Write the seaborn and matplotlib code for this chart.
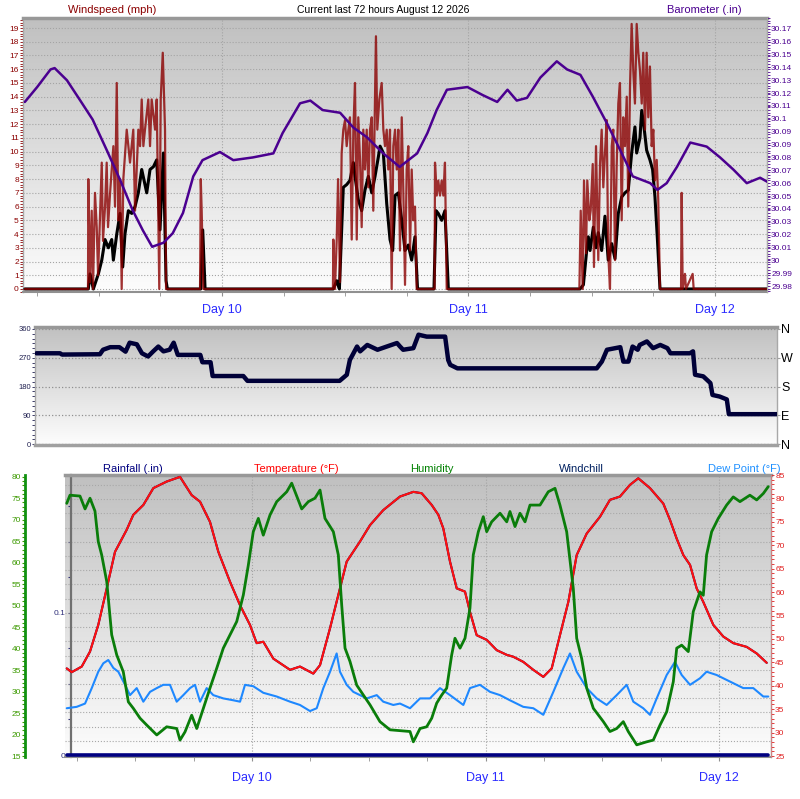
import numpy as np
import matplotlib
matplotlib.use("Agg")
import matplotlib.pyplot as plt
from matplotlib.colors import LinearSegmentedColormap
from matplotlib.ticker import MultipleLocator
import seaborn as sns

sns.set_style("white")
plt.rcParams['font.family'] = ['Liberation Sans', 'DejaVu Sans']

# ---- data (hours relative to Day 10 00:00) ----
day_hours = [0, 24, 48]
day_labels = ["Day 10", "Day 11", "Day 12"]

# barometer (.in)
baro_hours = [-19.2, -18.0, -16.7, -16.3, -15.1, -13.8, -12.6, -11.2, -9.9, -8.7,
              -7.7, -6.8, -5.7, -4.8, -3.8, -2.8, -1.9, -0.2, 1.1, 3.0,
              5.0, 5.9, 7.6, 8.6, 9.8, 11.5, 12.8, 14.1, 15.7, 17.3,
              19.0, 20.0, 20.9, 21.9, 23.9, 25.4, 26.8, 27.8, 28.7, 29.7,
              31.0, 32.6, 33.6, 34.9, 36.1, 37.5, 38.8, 40.0, 41.7, 42.4,
              43.3, 44.3, 45.6, 47.2, 48.5, 49.8, 51.1, 52.4, 53.1]
baro_vals = [30.116, 30.127, 30.140, 30.141, 30.132, 30.117, 30.103, 30.080, 30.058, 30.036,
             30.021, 30.009, 30.012, 30.019, 30.034, 30.061, 30.073, 30.079, 30.073, 30.075,
             30.078, 30.093, 30.115, 30.117, 30.110, 30.108, 30.097, 30.090, 30.078, 30.068,
             30.078, 30.093, 30.110, 30.125, 30.127, 30.121, 30.116, 30.125, 30.117, 30.119,
             30.134, 30.146, 30.140, 30.136, 30.120, 30.100, 30.080, 30.061, 30.056, 30.051,
             30.056, 30.068, 30.086, 30.083, 30.075, 30.066, 30.056, 30.060, 30.057]
baro_tick_labels = ["29.98", "29.99", "30", "30.01", "30.02", "30.03", "30.04", "30.05",
                    "30.06", "30.07", "30.08", "30.09", "30.09", "30.1", "30.11", "30.12",
                    "30.13", "30.14", "30.15", "30.16", "30.17"]

# wind gust (mph)
gust_hours = [-19.2, -13.05, -13.02, -12.85, -12.69, -12.56, -12.37, -12.20, -12.07, -11.71,
              -11.59, -11.39, -11.23, -11.10, -10.90, -10.58, -10.42, -10.25, -10.10, -9.93,
              -9.77, -9.61, -9.28, -8.96, -8.64, -8.47, -8.15, -7.98, -7.82, -7.66,
              -7.50, -7.18, -7.01, -6.85, -6.52, -6.36, -6.11, -5.97, -5.77, -5.55,
              -5.45, -2.14, -2.07, -1.98, -1.82,
              10.80, 10.84, 11.00, 11.17, 11.30, 11.49, 11.65, 11.81, 11.98, 12.14,
              12.30, 12.46, 12.63, 12.79, 12.95, 13.12, 13.27, 13.44, 13.60, 13.76,
              13.92, 14.09, 14.25, 14.41, 14.58, 14.73, 14.90, 14.99, 15.12, 15.32,
              15.55, 15.71, 15.87, 16.04, 16.19, 16.36, 16.52, 16.68, 16.85, 17.01,
              17.17, 17.33, 17.50, 17.65, 17.82, 17.98, 18.14, 18.31, 18.47, 18.63,
              18.79, 18.96, 20.70, 20.74, 20.91, 21.06, 21.23, 21.39, 21.55, 21.71,
              21.88,
              34.80, 34.93, 35.12, 35.25, 35.45, 35.57, 35.77, 35.90, 36.10, 36.22,
              36.42, 36.64, 36.81, 36.97, 37.13, 37.29, 37.46, 37.61, 37.78, 37.95,
              38.10, 38.27, 38.43, 38.59, 38.75, 38.92, 39.07, 39.24, 39.41, 39.56,
              39.73, 39.89, 40.05, 40.21, 40.38, 40.54, 40.70, 40.87, 41.02, 41.19,
              41.35, 41.51, 41.67, 41.84, 42.00, 42.16, 42.33, 42.48, 42.65, 44.70,
              44.76, 44.86, 45.08, 45.18, 45.83, 45.93, 53.1]
gust_vals = [0, 0, 8.0, 0.5, 5.7, 0, 7.0, 4.5, 1.0, 9.2,
             3.5, 6.0, 9.2, 4.5, 7.0, 10.4, 6.0, 15.0, 5.0, 8.0,
             0, 8.0, 11.6, 9.2, 11.6, 5.7, 11.6, 10.4, 13.8, 10.4,
             11.6, 13.8, 10.4, 13.8, 11.6, 13.8, 0, 13.8, 17.2, 11.6,
             0, 0, 8.0, 5.7, 0,
             0, 3.6, 0, 3.6, 8.0, 0.5, 9.9, 11.6, 12.3, 10.4,
             11.6, 12.5, 3.6, 11.6, 15.0, 3.6, 12.5, 9.4, 4.5, 11.6,
             8.7, 11.6, 7.4, 11.6, 12.5, 5.7, 13.8, 18.4, 11.6, 13.8,
             15.0, 11.6, 10.4, 11.6, 8.7, 11.6, 0, 10.4, 11.6, 8.7,
             11.6, 2.8, 12.5, 7.4, 0.3, 8.7, 10.4, 2.8, 8.7, 5.0,
             6.0, 0, 0, 9.2, 6.8, 7.9, 6.8, 7.9, 6.8, 9.2,
             0,
             0, 5.7, 0, 7.9, 2.6, 7.9, 5.0, 5.7, 9.1, 1.6,
             10.4, 2.1, 9.1, 11.6, 7.4, 9.9, 12.3, 2.6, 0, 10.4,
             11.6, 2.1, 8.9, 13.5, 15.0, 5.0, 12.5, 10.4, 14.0, 6.0,
             14.7, 19.3, 15.9, 13.5, 19.3, 17.2, 15.9, 13.5, 17.2, 11.6,
             17.2, 12.5, 16.2, 10.4, 11.6, 7.9, 9.4, 6.5, 0, 0,
             7.0, 0, 1.1, 0, 1.1, 0, 0]

# average wind speed (mph)
avg_hours = [-19.2, -13.02, -12.85, -12.53, -12.04, -11.71, -11.39, -11.07, -10.74, -10.58,
             -10.25, -9.93, -9.67, -9.45, -9.12, -8.79, -8.47, -8.15, -7.82, -7.33,
             -7.01, -6.68, -6.36, -6.04, -5.71, -5.45, -5.32, -2.07, -1.88, -1.65,
             10.84, 11.17, 11.43, 11.81, 12.14, 12.46, 12.79, 12.95, 13.27, 13.60,
             13.92, 14.25, 14.58, 14.90, 15.22, 15.39, 15.71, 16.04, 16.36, 16.62,
             16.85, 17.17, 17.50, 17.82, 18.14, 18.47, 18.79, 19.04, 20.64, 20.84,
             21.06, 21.39, 21.71, 22.04,
             34.86, 35.19, 35.51, 35.67, 35.84, 36.16, 36.42, 36.64, 36.97, 37.29,
             37.61, 37.95, 38.27, 38.59, 38.92, 39.24, 39.56, 39.89, 40.21, 40.38,
             40.70, 40.87, 41.09, 41.35, 41.67, 41.93, 42.16, 42.40, 42.65, 53.1]
avg_vals = [0, 0, 1.1, 0, 1.1, 2.1, 3.6, 3.0, 3.6, 2.1,
            4.0, 5.5, 1.6, 4.0, 5.7, 5.5, 6.0, 7.0, 8.7, 7.0,
            8.7, 8.9, 9.4, 4.3, 9.9, 0.6, 0, 0, 4.3, 0,
            0, 0.6, 0, 7.4, 7.6, 7.9, 9.2, 8.2, 6.5, 5.7,
            7.2, 8.2, 7.0, 8.2, 9.6, 10.4, 9.9, 6.2, 3.6, 2.8,
            6.8, 7.0, 5.0, 2.8, 3.2, 2.1, 3.8, 0, 0, 5.7,
            5.5, 5.0, 5.7, 0,
            0, 0.3, 2.8, 3.8, 2.8, 4.5, 3.0, 4.1, 2.8, 5.3,
            2.1, 3.3, 2.2, 5.5, 6.7, 7.0, 7.2, 9.9, 11.8, 9.9,
            11.0, 13.0, 11.8, 10.1, 9.4, 8.7, 6.7, 3.6, 0, 0]

# wind direction (degrees)
dir_hours = [-19.2, -16.9, -16.7, -13.0, -12.7, -12.0, -11.1, -10.5, -10.1, -9.4,
             -8.9, -8.3, -7.8, -7.3, -6.8, -6.2, -5.8, -5.4, -3.2, -3.0,
             -2.2, -2.0, 1.0, 1.4, 10.4, 11.1, 11.4, 12.1, 12.4, 13.1,
             14.1, 15.0, 16.0, 16.3, 16.6, 17.6, 18.1, 18.9, 20.7, 21.0,
             21.2, 21.9, 35.5, 36.0, 36.5, 37.8, 38.1, 38.6, 39.0, 39.5,
             39.7, 40.4, 41.0, 41.7, 42.4, 42.7, 44.6, 44.9, 45.1, 45.9,
             46.6, 46.8, 47.5, 48.2, 48.4, 53.1]
dir_vals = [284, 284, 280, 281, 295, 303, 303, 289, 317, 312,
            284, 274, 290, 305, 290, 295, 317, 279, 279, 256,
            256, 213, 213, 198, 198, 217, 263, 305, 290, 310,
            295, 305, 316, 305, 295, 300, 342, 336, 336, 263,
            248, 237, 237, 258, 295, 303, 258, 258, 305, 295,
            310, 321, 300, 310, 300, 284, 284, 290, 217, 212,
            191, 154, 149, 140, 94, 94]
compass_labels = ["N", "E", "S", "W", "N"]

# temperature (F)
temp_hours = [-19.04, -18.53, -17.50, -16.65, -15.80, -14.93, -14.08, -12.88, -12.20, -11.17,
              -10.14, -8.77, -7.40, -6.20, -5.34, -4.32, -3.46, -2.26, -1.23, -0.21,
              0.48, 1.16, 2.19, 3.91, 4.93, 6.30, 6.99, 8.02, 9.04, 9.73,
              11.10, 12.13, 13.49, 15.21, 16.58, 17.44, 18.47, 19.15, 19.66, 20.35,
              21.04, 21.89, 22.40, 23.09, 24.12, 25.15, 26.18, 26.85, 27.88, 28.91,
              29.94, 30.80, 31.65, 32.51, 33.37, 34.40, 35.77, 36.79, 37.82, 38.85,
              39.70, 40.90, 42.27, 42.96, 43.65, 44.33, 45.02, 45.70, 46.38, 47.41,
              48.44, 49.47, 50.84, 51.87, 52.90]
temp_vals = [43.7, 42.9, 44.1, 47.3, 53.0, 60.8, 68.6, 73.3, 76.5, 78.6,
             82.2, 83.6, 84.6, 80.7, 79.3, 75.0, 68.6, 62.2, 57.2, 53.0,
             49.1, 49.4, 45.8, 43.4, 44.1, 42.6, 44.4, 52.3, 60.8, 66.5,
             70.8, 74.3, 77.5, 80.4, 81.4, 81.1, 78.6, 76.5, 73.6, 66.5,
             60.8, 60.1, 55.8, 50.8, 49.8, 47.6, 46.6, 46.2, 45.1, 43.4,
             41.9, 43.7, 50.8, 57.9, 67.9, 72.5, 76.1, 79.7, 80.4, 82.9,
             84.3, 82.2, 78.9, 75.4, 71.4, 67.9, 65.8, 60.8, 57.9, 53.0,
             50.5, 49.1, 48.3, 46.9, 44.9]
# windchill reads the same as temperature here (its line sits under the red one)
windchill_vals = temp_vals

# humidity (%)
hum_hours = [-19.04, -18.71, -17.68, -17.16, -16.65, -16.14, -15.80, -15.45, -14.93, -14.42,
             -13.90, -13.23, -12.71, -12.20, -11.51, -10.82, -9.79, -8.77, -7.74, -7.40,
             -6.89, -6.20, -5.68, -5.00, -4.32, -3.63, -2.95, -2.26, -1.57, -0.89,
             -0.38, 0.13, 0.65, 1.16, 1.85, 2.54, 3.57, 4.08, 5.11, 5.79,
             6.47, 6.99, 7.50, 8.36, 8.87, 9.22, 9.56, 10.07, 10.76, 11.44,
             12.13, 13.15, 14.18, 15.21, 16.24, 16.58, 17.27, 17.95, 18.47, 18.98,
             19.50, 20.01, 20.52, 20.86, 21.38, 21.89, 22.40, 22.74, 23.26, 23.77,
             24.12, 24.63, 25.49, 26.18, 26.51, 27.03, 27.54, 28.06, 28.57, 29.60,
             30.45, 31.14, 31.65, 32.34, 33.02, 33.37, 33.88, 34.40, 35.08, 36.11,
             36.79, 37.48, 38.16, 38.67, 39.54, 40.56, 41.24, 41.93, 42.62, 43.30,
             43.65, 44.16, 44.84, 45.35, 46.04, 46.38, 46.72, 47.24, 47.92, 48.78,
             49.46, 50.15, 51.17, 51.87, 52.55, 53.06]
hum_vals = [73.8, 75.7, 75.5, 72.5, 75.0, 72.0, 64.9, 61.8, 55.6, 43.2,
            38.5, 34.6, 27.6, 26.1, 23.8, 22.2, 19.9, 21.8, 21.4, 18.7,
            20.6, 24.5, 21.4, 26.1, 30.8, 35.4, 40.1, 43.2, 46.3, 52.5,
            59.4, 67.2, 70.3, 66.4, 71.1, 74.2, 76.5, 78.5, 72.5, 74.2,
            75.0, 76.9, 70.3, 67.2, 61.8, 50.1, 40.1, 37.0, 31.5, 29.2,
            26.9, 23.0, 21.1, 20.9, 20.7, 18.3, 21.4, 21.8, 23.8, 27.3,
            29.2, 30.8, 38.5, 42.4, 40.1, 42.4, 49.4, 61.8, 67.2, 70.7,
            67.2, 69.5, 71.5, 69.5, 71.9, 68.4, 71.5, 69.5, 73.4, 73.4,
            76.5, 77.3, 73.4, 67.2, 54.0, 42.4, 37.7, 30.8, 26.1, 23.0,
            20.7, 21.4, 23.0, 20.7, 17.6, 18.3, 18.7, 22.2, 25.3, 32.3,
            40.1, 40.8, 39.3, 48.6, 53.2, 52.4, 61.8, 67.2, 70.3, 73.4,
            75.3, 74.2, 75.7, 74.6, 76.1, 77.7]

# dew point (F)
dew_hours = [-19.04, -18.02, -17.16, -16.47, -15.80, -15.28, -14.77, -14.25, -13.74, -13.05,
             -12.54, -11.85, -11.17, -10.48, -9.79, -9.12, -8.43, -7.74, -7.06, -6.37,
             -5.86, -5.34, -4.66, -3.98, -2.95, -1.92, -1.23, -0.72, 0.13, 1.16,
             2.54, 3.91, 4.93, 5.96, 6.65, 7.33, 8.02, 8.70, 9.04, 9.73,
             10.41, 11.10, 11.79, 12.82, 13.49, 14.52, 15.21, 16.24, 17.27, 18.29,
             19.32, 20.35, 21.72, 22.40, 23.43, 24.46, 25.49, 26.51, 27.88, 28.91,
             29.94, 30.97, 32.00, 32.68, 33.37, 34.40, 35.43, 36.45, 37.48, 38.51,
             39.19, 40.21, 40.90, 41.59, 42.62, 43.47, 44.16, 45.02, 46.04, 46.72,
             47.75, 49.12, 50.49, 51.52, 52.55, 53.06]
dew_vals = [35.2, 35.5, 36.2, 39.5, 43.0, 44.8, 45.5, 43.8, 43.0, 40.2,
            38.0, 39.5, 36.6, 38.7, 39.5, 40.2, 40.2, 36.6, 38.0, 39.5,
            40.2, 36.6, 39.5, 38.0, 37.3, 36.9, 36.6, 40.2, 39.9, 38.5,
            37.7, 36.6, 35.9, 34.6, 35.2, 39.5, 43.0, 46.9, 43.0, 40.2,
            38.7, 38.0, 37.3, 38.0, 36.6, 35.9, 36.2, 35.2, 37.3, 37.3,
            39.5, 38.0, 35.9, 39.5, 40.2, 38.7, 38.0, 36.9, 35.5, 35.2,
            33.8, 38.7, 43.8, 46.9, 43.0, 39.5, 37.3, 35.9, 38.0, 40.2,
            36.6, 35.2, 33.8, 37.3, 42.3, 45.1, 42.3, 40.2, 41.6, 43.0,
            42.3, 40.9, 39.5, 39.5, 37.7, 37.7]

# rainfall (.in)
rain_hours = [-19.04, 53.06]
rain_vals = [0.0, 0.0]

# ---- helpers ----
W, H = 800, 799
bg_cmap = LinearSegmentedColormap.from_list('bg', ['#c0c0c0', '#fdfdfd'])


def px_axes(x0, y0, x1, y1):
    # axes box given in pixel coords (top-left origin)
    return fig.add_axes([x0 / W, 1 - y1 / H, (x1 - x0) / W, (y1 - y0) / H])


def add_background(ax):
    ax.imshow(np.linspace(0, 1, 256).reshape(-1, 1), cmap=bg_cmap, aspect='auto',
              extent=[0, 1, 0, 1], transform=ax.transAxes, zorder=0)


def draw(ax, hrs, vals, color, lw, z=3, alpha=1.0):
    sns.lineplot(x=hrs, y=vals, ax=ax, color=color, linewidth=lw, estimator=None,
                 sort=False, zorder=z, alpha=alpha, legend=False)


def style_frame(ax):
    for s in ['left', 'right']:
        ax.spines[s].set_color('#a8a8a8')
        ax.spines[s].set_linewidth(1)
    ax.spines['top'].set_color('#989898')
    ax.spines['top'].set_linewidth(2.5)
    ax.spines['bottom'].set_color('#909090')
    ax.spines['bottom'].set_linewidth(1.5)


def hide_spines(ax, keep):
    for s in ['left', 'right', 'top', 'bottom']:
        ax.spines[s].set_visible(s in keep)


fig = plt.figure(figsize=(8, 7.99), dpi=100)
fig.patch.set_facecolor('white')

# ---- top panel: windspeed + barometer ----
ax_w = px_axes(23, 18, 767, 292)
add_background(ax_w)
draw(ax_w, avg_hours, avg_vals, 'black', 2.2, z=3)
draw(ax_w, gust_hours, gust_vals, '#8b0000', 1.6, z=4, alpha=0.8)
ax_w.set_xlim(-19.38, 53.07)
ax_w.set_ylim(-0.22, 19.73)
ax_w.yaxis.set_major_locator(MultipleLocator(1))
ax_w.yaxis.set_minor_locator(MultipleLocator(0.2))
ax_w.set_xticks(day_hours)
ax_w.set_xticklabels(day_labels)
ax_w.xaxis.set_minor_locator(MultipleLocator(6))
ax_w.tick_params(axis='y', which='both', left=True, direction='out', colors='#8b0000',
                 labelsize=6, length=2, width=0.6, pad=1)
ax_w.tick_params(axis='x', which='both', bottom=True, direction='out', color='#909090',
                 length=3, labelsize=9, labelcolor='#2b2bff', pad=6)
ax_w.yaxis.grid(True, which='major', ls=':', color='#a4a4a4', lw=0.8)
ax_w.xaxis.grid(True, which='major', ls=':', color='#a4a4a4', lw=0.8)
ax_w.set_axisbelow(True)
style_frame(ax_w)

ax_b = ax_w.twinx()
draw(ax_b, baro_hours, baro_vals, '#4b0090', 1.8, z=5)
ax_b.set_ylim(29.9756, 30.178)
ax_b.set_yticks(np.linspace(29.98, 30.17, len(baro_tick_labels)))
ax_b.set_yticklabels(baro_tick_labels)
ax_b.yaxis.set_minor_locator(MultipleLocator(0.002))
ax_b.tick_params(axis='y', which='both', right=True, direction='out', colors='#4b0090',
                 labelsize=6, length=2, width=0.6, pad=1)
ax_b.set_xlim(-19.38, 53.07)
hide_spines(ax_b, ['right'])
ax_b.spines['right'].set_color('#a8a8a8')

fig.text(112 / W, 1 - 10 / H, 'Windspeed (mph)', color='#8b0000', ha='center', va='center', fontsize=8)
fig.text(383 / W, 1 - 10 / H, 'Current last 72 hours August 12 2026', color='black',
         ha='center', va='center', fontsize=7.5)
fig.text(704 / W, 1 - 10 / H, 'Barometer (.in)', color='#4b0090', ha='center', va='center', fontsize=8)

# ---- middle panel: wind direction ----
ax_d = px_axes(35, 327, 777, 445)
add_background(ax_d)
draw(ax_d, dir_hours, dir_vals, '#000038', 3.2, z=3)
ax_d.set_xlim(-19.34, 53.1)
ax_d.set_ylim(-2.2, 366)
ax_d.set_yticks([0, 90, 180, 270, 360])
ax_d.yaxis.set_minor_locator(MultipleLocator(15))
ax_d.set_xticks([])
ax_d.tick_params(axis='y', which='both', left=True, direction='out', colors='#202050',
                 labelsize=5.5, length=2, width=0.6, pad=1)
ax_d.yaxis.grid(True, which='major', ls=':', color='#909090', lw=0.9)
ax_d.set_axisbelow(True)
style_frame(ax_d)
ax_d.spines['bottom'].set_linewidth(2.5)
ax_d.spines['bottom'].set_color('#a0a0a0')

ax_c = ax_d.twinx()
ax_c.set_ylim(-2.2, 366)
ax_c.set_yticks([0, 90, 180, 270, 360])
ax_c.set_yticklabels(compass_labels)
ax_c.tick_params(axis='y', right=True, direction='out', color='#a0a0a0', length=2,
                 labelsize=9, labelcolor='black', pad=1)
hide_spines(ax_c, [])

# ---- bottom panel: rainfall / temperature / humidity / dew point ----
ax_r = px_axes(65, 475, 771, 757)
add_background(ax_r)
for g in np.arange(0.01, 0.2, 0.01):
    ax_r.axhline(g, ls=':', color='#a8a8a8', lw=0.8, zorder=1)
draw(ax_r, rain_hours, rain_vals, '#000080', 2.6, z=3)
ax_r.set_xlim(-19.22, 53.34)
ax_r.set_ylim(-0.0014, 0.197)
ax_r.set_yticks([0, 0.1])
ax_r.set_yticklabels(['0', '0.1'])
ax_r.yaxis.set_minor_locator(MultipleLocator(0.025))
ax_r.set_xticks(day_hours)
ax_r.set_xticklabels(day_labels)
ax_r.xaxis.set_minor_locator(MultipleLocator(6))
ax_r.tick_params(axis='y', which='both', left=True, direction='out', colors='#30307a',
                 labelsize=6, length=2.5, width=0.8, pad=1)
ax_r.tick_params(axis='x', which='both', bottom=True, direction='out', color='#909090',
                 length=3, labelsize=9, labelcolor='#2b2bff', pad=8)
ax_r.xaxis.grid(True, which='major', ls=':', color='#a4a4a4', lw=0.8)
ax_r.set_axisbelow(True)
style_frame(ax_r)
ax_r.spines['left'].set_position(('axes', 5.5 / 706))
ax_r.spines['left'].set_color('#707070')
ax_r.spines['left'].set_linewidth(1.6)

ax_t = ax_r.twinx()
draw(ax_t, dew_hours, dew_vals, '#1e88ff', 1.5, z=3)
draw(ax_t, temp_hours, windchill_vals, '#000060', 1.5, z=4)
draw(ax_t, temp_hours, temp_vals, '#ff1010', 1.5, z=5)
ax_t.set_ylim(24.79, 85)
ax_t.yaxis.set_major_locator(MultipleLocator(5))
ax_t.yaxis.set_minor_locator(MultipleLocator(1))
ax_t.tick_params(axis='y', which='both', right=True, direction='out', colors='#e02020',
                 labelsize=6, length=2, width=0.6, pad=1)
hide_spines(ax_t, ['right'])
ax_t.spines['right'].set_color('#d08080')

ax_h = ax_r.twinx()
draw(ax_h, hum_hours, hum_vals, '#0a7d0a', 2.0, z=3)
ax_h.set_ylim(14.77, 80.4)
ax_h.yaxis.tick_left()
ax_h.yaxis.set_major_locator(MultipleLocator(5))
ax_h.yaxis.set_minor_locator(MultipleLocator(1))
ax_h.tick_params(axis='y', which='both', left=True, right=False, direction='out',
                 colors='#3c9a00', labelsize=6, length=2, width=0.8, pad=1)
hide_spines(ax_h, ['left'])
ax_h.spines['left'].set_position(('axes', (25 - 65) / 706))
ax_h.spines['left'].set_color('#109010')
ax_h.spines['left'].set_linewidth(2)
ax_h.set_xlim(-19.22, 53.34)

hy = 1 - 469 / H
fig.text(133 / W, hy, 'Rainfall (.in)', color='#000080', ha='center', va='center', fontsize=8)
fig.text(296 / W, hy, 'Temperature (°F)', color='#ff0000', ha='center', va='center', fontsize=8)
fig.text(432 / W, hy, 'Humidity', color='#008000', ha='center', va='center', fontsize=8)
fig.text(581 / W, hy, 'Windchill', color='#002060', ha='center', va='center', fontsize=8)
fig.text(744 / W, hy, 'Dew Point (°F)', color='#1e90ff', ha='center', va='center', fontsize=8)

for a in [ax_w, ax_b, ax_d, ax_c, ax_r, ax_t, ax_h]:
    a.set_xlabel('')
    a.set_ylabel('')

fig.savefig('out.png', dpi=100)
